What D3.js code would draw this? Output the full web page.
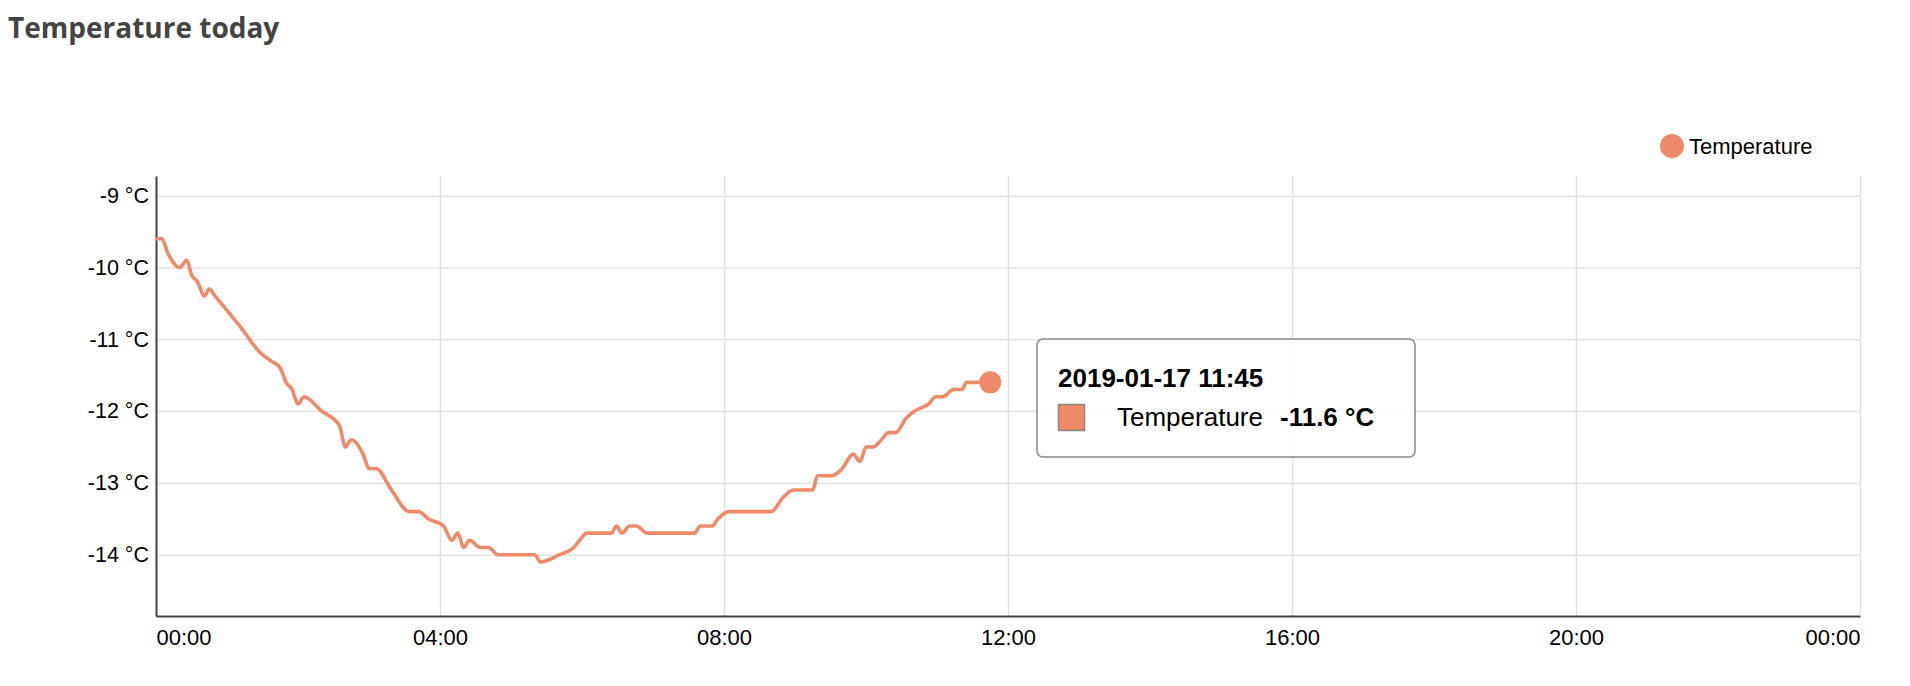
<!DOCTYPE html>
<html>
<head>
<meta charset="utf-8">
<script src="https://cdn.jsdelivr.net/npm/d3@7"></script>
<style>
	body { margin: 0; background: #fff; }
	svg { display: block; }
	.grid line { stroke: #e3e3e3; stroke-width: 1.5; }
	.grid path { display: none; }
	.tick text { font-family: "Liberation Sans", Arial, sans-serif; fill: #000; }
	.x-axis .tick text { font-size: 22px; }
	.y-axis .tick text { font-size: 21.5px; }
</style>
</head>
<body>
<script>
var chartTitle = "Temperature today"
var seriesName = "Temperature"
var dayStart = "2019-01-17 00:00"
var dayEnd = "2019-01-18 00:00"
var times = [
	"00:00", "00:05", "00:10", "00:20", "00:26", "00:30", "00:35", "00:41", "00:45", "00:50",
	"01:10", "01:29", "01:37", "01:45", "01:50", "01:55", "02:00", "02:05", "02:20", "02:35",
	"02:40", "02:45", "02:55", "03:00", "03:06", "03:19", "03:34", "03:42", "03:50", "04:03",
	"04:10", "04:15", "04:20", "04:25", "04:34", "04:41", "04:49", "05:20", "05:25", "05:41",
	"05:53", "05:58", "06:04", "06:25", "06:29", "06:34", "06:40", "06:46", "06:55", "07:35",
	"07:40", "07:50", "07:55", "08:04", "08:40", "08:50", "08:59", "09:15", "09:19", "09:31",
	"09:40", "09:49", "09:55", "10:00", "10:06", "10:13", "10:19", "10:25", "10:34", "10:41",
	"10:53", "10:59", "11:05", "11:14", "11:21", "11:25", "11:45"
]
var temps = [
	-9.6, -9.6, -9.8, -10.0, -9.9, -10.1, -10.2, -10.4, -10.3, -10.4,
	-10.8, -11.2, -11.3, -11.4, -11.6, -11.7, -11.9, -11.8, -12.0, -12.2,
	-12.5, -12.4, -12.6, -12.8, -12.8, -13.1, -13.4, -13.4, -13.5, -13.6,
	-13.8, -13.7, -13.9, -13.8, -13.9, -13.9, -14.0, -14.0, -14.1, -14.0,
	-13.9, -13.8, -13.7, -13.7, -13.6, -13.7, -13.6, -13.6, -13.7, -13.7,
	-13.6, -13.6, -13.5, -13.4, -13.4, -13.2, -13.1, -13.1, -12.9, -12.9,
	-12.8, -12.6, -12.7, -12.5, -12.5, -12.4, -12.3, -12.3, -12.1, -12.0,
	-11.9, -11.8, -11.8, -11.7, -11.7, -11.6, -11.6
]
var yTicks = [-9, -10, -11, -12, -13, -14]

var color = "#ee8a69"
var width = 1910, height = 686
var parse = d3.timeParse("%Y-%m-%d %H:%M")
var data = times.map((t, i) => ({ date: parse("2019-01-17 " + t), value: temps[i] }))
var last = data[data.length - 1]

var svg = d3.select("body").append("svg")
	.attr("width", width)
	.attr("height", height)

svg.append("text")
	.attr("x", 8)
	.attr("y", 38)
	.attr("font-family", "'Open Sans', sans-serif")
	.attr("font-weight", 700)
	.attr("font-size", 28)
	.attr("fill", "#444")
	.text(chartTitle)

var plotLeft = 156, plotRight = 1860, plotTop = 176, plotBottom = 616
var x = d3.scaleTime().domain([parse(dayStart), parse(dayEnd)]).range([plotLeft, plotRight])
var y = d3.scaleLinear().domain([-14.854, -8.726]).range([plotBottom, plotTop])

// grid
svg.append("g")
	.attr("class", "grid")
	.attr("transform", "translate(0," + plotBottom + ")")
	.call(d3.axisBottom(x).ticks(d3.timeHour.every(4)).tickSize(plotTop - plotBottom).tickFormat(""))
svg.append("g")
	.attr("class", "grid")
	.attr("transform", "translate(" + plotLeft + ",0)")
	.call(d3.axisLeft(y).tickValues(yTicks).tickSize(plotLeft - plotRight).tickFormat(""))

// axes
var xAxis = svg.append("g")
	.attr("class", "x-axis")
	.attr("transform", "translate(0," + plotBottom + ")")
	.call(d3.axisBottom(x).ticks(d3.timeHour.every(4)).tickSize(0).tickPadding(13.5).tickFormat(d3.timeFormat("%H:%M")))
xAxis.select(".domain").attr("stroke", "#444").attr("stroke-width", 2)
var xLabels = xAxis.selectAll(".tick text").attr("dy", "0.71em")
xLabels.filter((d, i) => i === 0).attr("text-anchor", "start")
xLabels.filter((d, i, n) => i === n.length - 1).attr("text-anchor", "end")

var yAxis = svg.append("g")
	.attr("class", "y-axis")
	.attr("transform", "translate(" + plotLeft + ",0)")
	.call(d3.axisLeft(y).tickValues(yTicks).tickSize(0).tickPadding(7).tickFormat((d) => d + " °C"))
yAxis.select(".domain").attr("stroke", "#444").attr("stroke-width", 2)

// line
var line = d3.line()
	.x((d) => x(d.date))
	.y((d) => y(d.value))
	.curve(d3.curveMonotoneX)
svg.append("path")
	.datum(data)
	.attr("fill", "none")
	.attr("stroke", color)
	.attr("stroke-width", 3.6)
	.attr("stroke-linejoin", "round")
	.attr("d", line)
svg.append("circle")
	.attr("cx", x(last.date))
	.attr("cy", y(last.value))
	.attr("r", 11)
	.attr("fill", color)

// legend
var legend = svg.append("g").attr("transform", "translate(1672,146)")
legend.append("circle").attr("r", 12).attr("fill", color)
legend.append("text")
	.attr("x", 17)
	.attr("y", 7.8)
	.attr("font-family", "'Liberation Sans', Arial, sans-serif")
	.attr("font-size", 22)
	.text(seriesName)

// tooltip
var tip = svg.append("g").attr("transform", "translate(1037,339)")
tip.append("rect")
	.attr("width", 378)
	.attr("height", 118)
	.attr("rx", 6)
	.attr("fill", "rgba(255,255,255,0.88)")
	.attr("stroke", "#888")
	.attr("stroke-width", 1.5)
tip.append("text")
	.attr("x", 21)
	.attr("y", 48)
	.attr("font-family", "'Liberation Sans', Arial, sans-serif")
	.attr("font-weight", 700)
	.attr("font-size", 26)
	.text(d3.timeFormat("%Y-%m-%d %H:%M")(last.date))
tip.append("rect")
	.attr("x", 21.5)
	.attr("y", 65.5)
	.attr("width", 26)
	.attr("height", 26)
	.attr("fill", color)
	.attr("stroke", "#888")
	.attr("stroke-width", 1.5)
tip.append("text")
	.attr("x", 80)
	.attr("y", 87)
	.attr("font-family", "'Liberation Sans', Arial, sans-serif")
	.attr("font-size", 26)
	.text(seriesName)
tip.append("text")
	.attr("x", 243)
	.attr("y", 87)
	.attr("font-family", "'Liberation Sans', Arial, sans-serif")
	.attr("font-weight", 700)
	.attr("font-size", 26)
	.text(last.value + " °C")
</script>
</body>
</html>
